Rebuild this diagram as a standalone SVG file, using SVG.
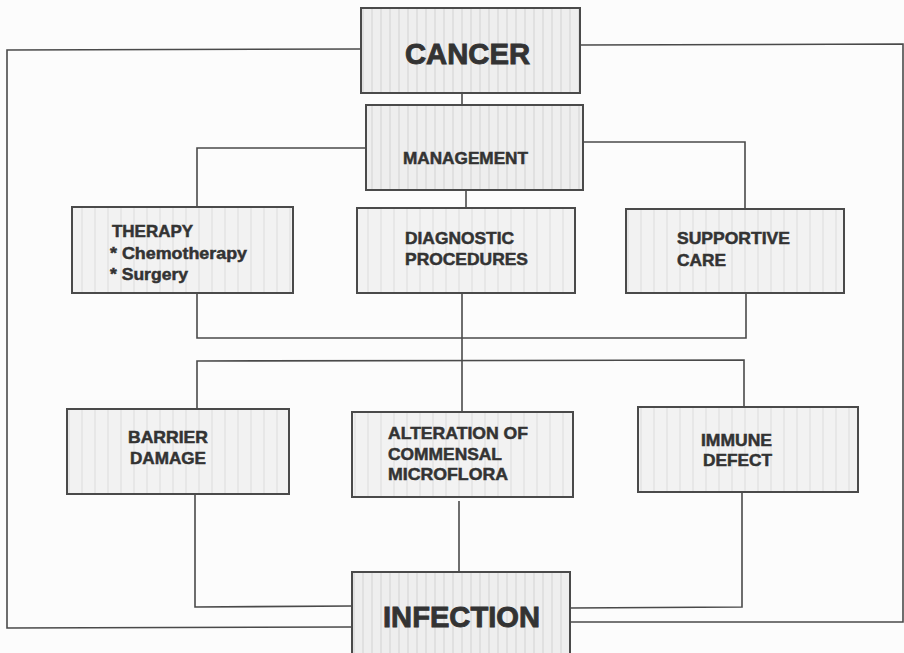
<svg xmlns="http://www.w3.org/2000/svg" width="904" height="653" viewBox="0 0 904 653">
<defs>
<pattern id="hatch" patternUnits="userSpaceOnUse" width="13" height="20">
<rect width="13" height="20" fill="#f2f2f2"/>
<line x1="4" y1="0" x2="4" y2="20" stroke="#dcdcdc" stroke-width="1"/>
</pattern>
<pattern id="hatch2" patternUnits="userSpaceOnUse" width="9" height="20">
<rect width="9" height="20" fill="#eeeeee"/>
<line x1="3" y1="0" x2="3" y2="20" stroke="#d2d2d2" stroke-width="1"/>
</pattern>
</defs>
<style>
.box{fill:url(#hatch);stroke:#4a4a4a;stroke-width:2}
.box2{fill:url(#hatch2);stroke:#4a4a4a;stroke-width:2}
.t{font-family:"Liberation Sans",Arial,sans-serif;font-weight:bold;fill:#333;stroke:#333;stroke-width:0.5;font-size:16.5px}
.big{font-family:"Liberation Sans",Arial,sans-serif;font-weight:bold;fill:#333;stroke:#333;stroke-width:0.9;font-size:29.5px}
.c{fill:none;stroke:#4a4a4a;stroke-width:1.6}
</style>
<rect width="904" height="653" fill="#fcfcfc"/>
<g id="connectors">
<polyline class="c" points="361,49 7,50 7,628 352,627"/>
<polyline class="c" points="580,45 903,44 903,622 570,622"/>
<line class="c" x1="462" y1="93" x2="462" y2="105"/>
<polyline class="c" points="366,148 197,148 197,207"/>
<polyline class="c" points="583,142 745,142 745,209"/>
<line class="c" x1="466" y1="190" x2="466" y2="208"/>
<polyline class="c" points="197,293 197,338 746,338 746,293"/>
<line class="c" x1="462" y1="293" x2="462" y2="412"/>
<polyline class="c" points="197,409 197,361 744,360 744,407"/>
<polyline class="c" points="195,494 195,607 352,606"/>
<line class="c" x1="459" y1="501" x2="459" y2="572"/>
<polyline class="c" points="742,492 742,607 570,608"/>
</g>
<g id="cancer">
<rect class="box2" x="361" y="8" width="219" height="85"/>
<text class="big" x="405" y="64" textLength="125" lengthAdjust="spacingAndGlyphs">CANCER</text>
</g>
<g id="management">
<rect class="box2" x="366" y="105" width="217" height="85"/>
<text class="t" x="403" y="164" textLength="125" lengthAdjust="spacingAndGlyphs">MANAGEMENT</text>
</g>
<g id="therapy">
<rect class="box" x="72" y="207" width="221" height="86"/>
<text class="t" x="112" y="237" textLength="81" lengthAdjust="spacingAndGlyphs">THERAPY</text>
<text class="t" x="110" y="259" textLength="137" lengthAdjust="spacingAndGlyphs">* Chemotherapy</text>
<text class="t" x="110" y="280" textLength="78" lengthAdjust="spacingAndGlyphs">* Surgery</text>
</g>
<g id="diagnostic">
<rect class="box" x="357" y="208" width="218" height="85"/>
<text class="t" x="405" y="244" textLength="109" lengthAdjust="spacingAndGlyphs">DIAGNOSTIC</text>
<text class="t" x="405" y="265" textLength="123" lengthAdjust="spacingAndGlyphs">PROCEDURES</text>
</g>
<g id="supportive">
<rect class="box" x="626" y="209" width="218" height="84"/>
<text class="t" x="677" y="244" textLength="113" lengthAdjust="spacingAndGlyphs">SUPPORTIVE</text>
<text class="t" x="677" y="266" textLength="49" lengthAdjust="spacingAndGlyphs">CARE</text>
</g>
<g id="barrier">
<rect class="box" x="67" y="409" width="222" height="85"/>
<text class="t" x="128" y="443" textLength="80" lengthAdjust="spacingAndGlyphs">BARRIER</text>
<text class="t" x="130" y="464" textLength="76" lengthAdjust="spacingAndGlyphs">DAMAGE</text>
</g>
<g id="alteration">
<rect class="box" x="352" y="412" width="221" height="85"/>
<text class="t" x="388" y="439" textLength="140" lengthAdjust="spacingAndGlyphs">ALTERATION OF</text>
<text class="t" x="388" y="460" textLength="114" lengthAdjust="spacingAndGlyphs">COMMENSAL</text>
<text class="t" x="388" y="480" textLength="120" lengthAdjust="spacingAndGlyphs">MICROFLORA</text>
</g>
<g id="immune">
<rect class="box" x="638" y="407" width="220" height="85"/>
<text class="t" x="701" y="446" textLength="71" lengthAdjust="spacingAndGlyphs">IMMUNE</text>
<text class="t" x="703" y="466" textLength="69" lengthAdjust="spacingAndGlyphs">DEFECT</text>
</g>
<g id="infection">
<rect class="box2" x="352" y="572" width="218" height="90"/>
<text class="big" x="383" y="627" textLength="157" lengthAdjust="spacingAndGlyphs">INFECTION</text>
</g>
</svg>
